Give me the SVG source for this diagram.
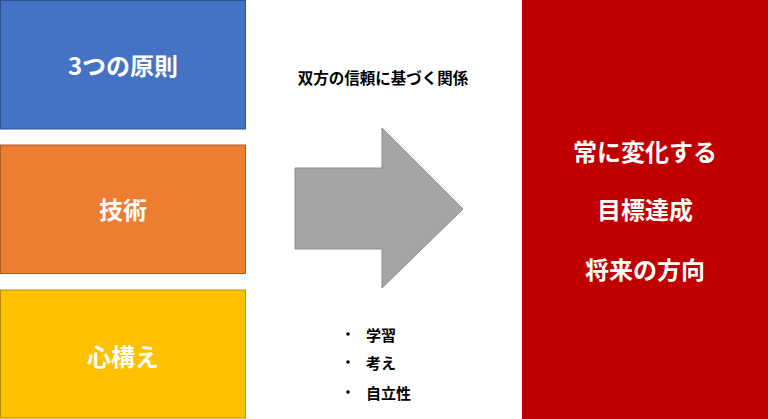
<svg xmlns="http://www.w3.org/2000/svg" width="768" height="419" viewBox="0 0 768 419">
<style>
.t{font-family:"Noto Sans CJK JP","Noto Sans",sans-serif;text-anchor:middle;dominant-baseline:central}
.w{fill:#fff;font-size:24px;font-weight:bold}
.k{fill:#000;font-size:15.5px;font-weight:bold}
.b{fill:#000;font-family:"Noto Sans CJK JP","Noto Sans",sans-serif;font-size:15px;font-weight:bold;dominant-baseline:central}
</style>
<rect width="768" height="419" fill="#fff"/>
<g id="principles">
<rect x="0.5" y="0.5" width="245" height="128.5" fill="#4472C4" stroke="#2F528F" stroke-width="1"/>
<text class="t w" x="123" y="64">3つの原則</text>
</g>
<g id="skill">
<rect x="0.5" y="145" width="245" height="128.5" fill="#ED7D31" stroke="#AE5A21" stroke-width="1"/>
<text class="t w" x="123" y="208">技術</text>
</g>
<g id="mindset">
<rect x="0.5" y="290" width="245" height="128" fill="#FFC000" stroke="#BC8C00" stroke-width="1"/>
<text class="t w" x="123" y="355">心構え</text>
</g>
<g id="arrow">
<polygon points="295,168 382,168 382,128 463,209 382,288 382,249 295,249" fill="#A5A5A5" stroke="#8C8C8C" stroke-width="1"/>
</g>
<g id="relation">
<text class="t k" x="383" y="77">双方の信頼に基づく関係</text>
</g>
<g id="list">
<circle cx="348" cy="334" r="1.8" fill="#000"/>
<circle cx="348" cy="362" r="1.8" fill="#000"/>
<circle cx="348" cy="392" r="1.8" fill="#000"/>
<text class="b" x="366" y="334">学習</text>
<text class="b" x="366" y="362">考え</text>
<text class="b" x="366" y="392">自立性</text>
</g>
<g id="goal">
<rect x="522" y="0" width="246" height="419" fill="#C00000"/>
<text class="t w" x="645" y="150">常に変化する</text>
<text class="t w" x="645" y="208">目標達成</text>
<text class="t w" x="645" y="268">将来の方向</text>
</g>
<g id="connectors"></g>
</svg>
